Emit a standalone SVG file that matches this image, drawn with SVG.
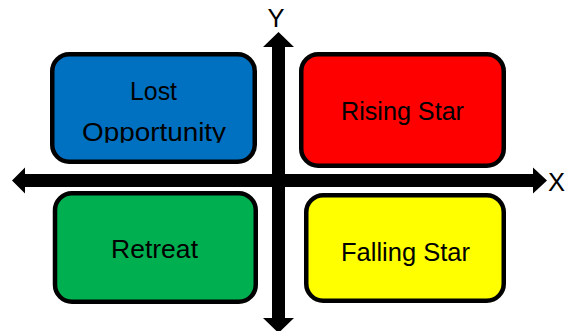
<svg xmlns="http://www.w3.org/2000/svg" width="574" height="331" viewBox="0 0 574 331">
<style>
.box{stroke:#000;stroke-width:4.5}
.lbl{font-family:"Liberation Sans",Arial,sans-serif;font-size:25.5px;fill:#000;text-anchor:middle}
.ax{fill:#000}
</style>
<defs>
<clipPath id="clipOpp"><rect x="0" y="0" width="574" height="142.7"/></clipPath>
</defs>
<rect width="574" height="331" fill="#fff"/>
<g id="connectors">
<polygon class="ax" points="12,180.5 25,167.5 25,174 533,174 533,167.5 547,180.5 533,193.5 533,187 25,187 25,193.5"/>
<polygon class="ax" points="278.5,32 294,47 285,47 285,318 294,318 278.5,333 263,318 272,318 272,47 263,47"/>
<text class="lbl" x="276" y="27">Y</text>
<text class="lbl" x="556.5" y="191">X</text>
</g>
<g id="lost-opportunity">
<rect class="box" x="52.25" y="54.25" width="202.5" height="107.5" rx="17" fill="#0070C0"/>
<text class="lbl" x="153.5" y="100" textLength="47" lengthAdjust="spacingAndGlyphs">Lost</text>
<text class="lbl" x="154" y="140.5" textLength="144" lengthAdjust="spacingAndGlyphs" clip-path="url(#clipOpp)">Opportunity</text>
</g>
<g id="rising-star">
<rect class="box" x="301.25" y="54.25" width="202.5" height="111.5" rx="17" fill="#FF0000"/>
<text class="lbl" x="402.5" y="120" textLength="123" lengthAdjust="spacingAndGlyphs">Rising Star</text>
</g>
<g id="retreat">
<rect class="box" x="55" y="193.25" width="200.75" height="108.5" rx="17" fill="#00B050"/>
<text class="lbl" x="154.5" y="258" textLength="87" lengthAdjust="spacingAndGlyphs">Retreat</text>
</g>
<g id="falling-star">
<rect class="box" x="306.25" y="195.25" width="197.5" height="105.5" rx="17" fill="#FFFF00"/>
<text class="lbl" x="405.5" y="261" textLength="129" lengthAdjust="spacingAndGlyphs">Falling Star</text>
</g>
</svg>
